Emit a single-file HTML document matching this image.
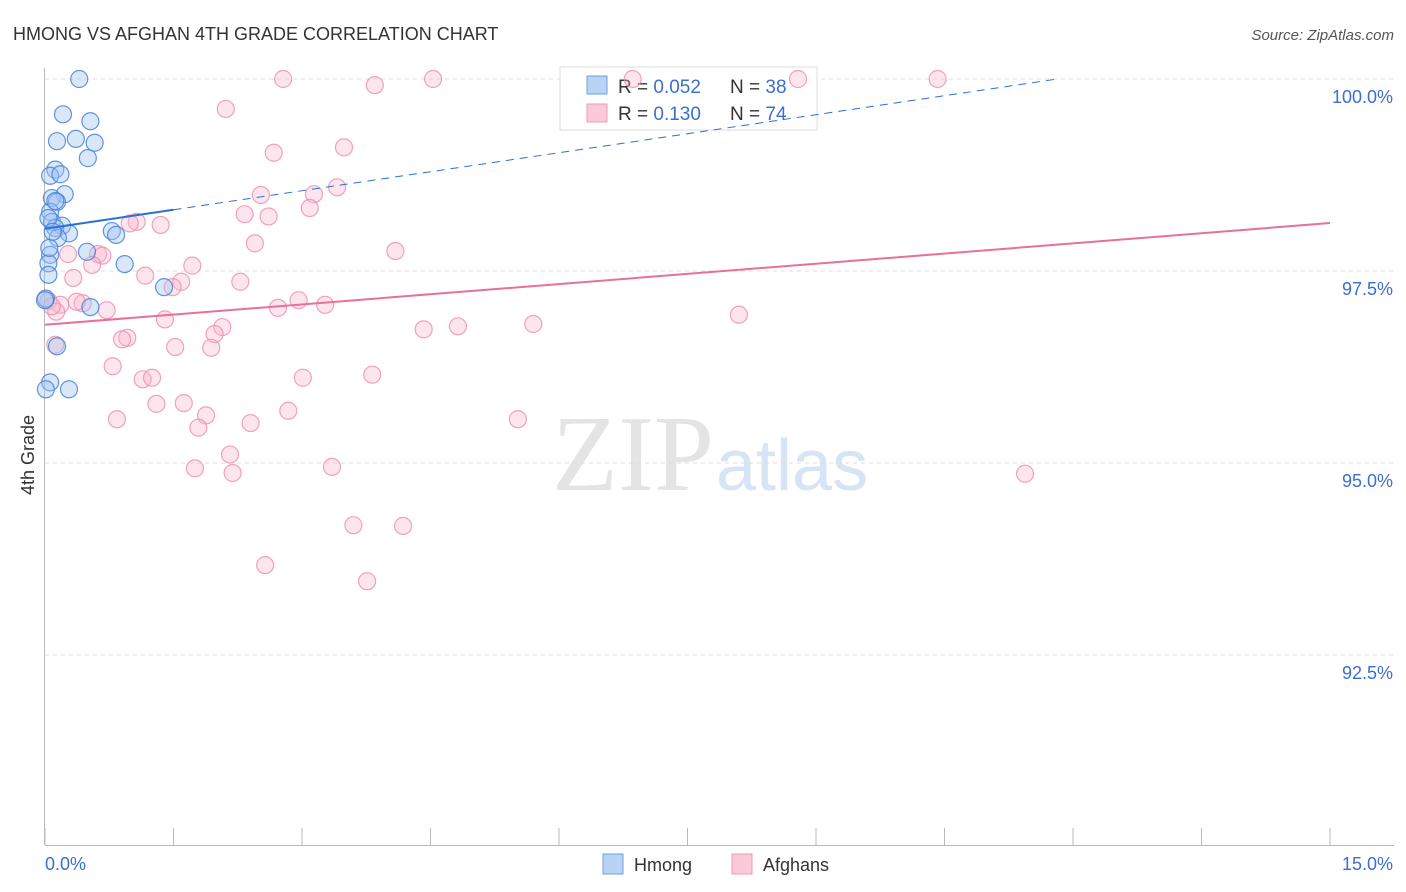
<!DOCTYPE html>
<html><head><meta charset="utf-8"><style>
body{margin:0;background:#fff;font-family:"Liberation Sans",sans-serif;}
svg{display:block}
</style></head><body>
<svg id="chart" width="1406" height="892">
<text x="13" y="40" font-size="18" fill="#333">HMONG VS AFGHAN 4TH GRADE CORRELATION CHART</text>
<text x="1394" y="40" font-size="15" fill="#555" font-style="italic" text-anchor="end">Source: ZipAtlas.com</text>
<text x="714" y="490" font-size="108" fill="#e4e4e4" text-anchor="end" font-family="Liberation Serif,serif">ZIP</text>
<text x="716" y="490" font-size="72" fill="#d6e4f5">atlas</text>
<text transform="translate(34,455) rotate(-90)" font-size="18" fill="#333" text-anchor="middle">4th Grade</text>
<g id="grid"></g><g id="axes"></g>
<g>
<rect x="560" y="67" width="257" height="63" fill="#fff" stroke="#ddd"/>
<rect x="587" y="76" width="20" height="18" fill="#b8d4f4" stroke="#6fa0e0"/>
<rect x="587" y="104" width="20" height="18" fill="#fbc9d8" stroke="#ee9ab5"/>
<text x="618" y="93" font-size="19" fill="#333">R = <tspan fill="#3a6fd0">0.052</tspan></text>
<text x="730" y="93" font-size="19" fill="#333">N = <tspan fill="#3a6fd0">38</tspan></text>
<text x="618" y="120" font-size="19" fill="#333">R =  <tspan fill="#3a6fd0">0.130</tspan></text>
<text x="730" y="120" font-size="19" fill="#333">N = <tspan fill="#3a6fd0">74</tspan></text>
</g>
<g id="pts"></g><g id="lines"></g>
<g>
<rect x="603" y="854" width="20" height="20" fill="#b8d4f4" stroke="#6fa0e0"/>
<text x="634" y="871" font-size="18" fill="#333">Hmong</text>
<rect x="732" y="854" width="20" height="20" fill="#fbc9d8" stroke="#ee9ab5"/>
<text x="763" y="871" font-size="18" fill="#333">Afghans</text>
</g>
</svg>
<script>
const hmongX=[0.40,0.21,0.53,0.14,0.36,0.58,0.50,0.12,0.06,0.18,0.23,0.08,0.14,0.06,0.08,0.20,0.12,0.28,0.15,0.78,0.83,0.49,0.06,0.04,0.93,0.04,1.39,0.01,0.53,0.14,0.06,0.01,0.28,0.12,0.04,0.05,0.09,0.00];
const hmongY=[100.0,99.54,99.45,99.19,99.22,99.17,98.97,98.82,98.74,98.76,98.50,98.45,98.40,98.27,98.14,98.09,98.06,97.99,97.93,98.02,97.97,97.75,97.71,97.60,97.59,97.45,97.29,97.14,97.03,96.52,96.05,95.96,95.96,98.41,98.19,97.80,98.01,97.12];
const afghX=[2.78,4.53,6.86,8.79,10.42,3.85,2.11,3.49,2.67,3.41,2.52,3.14,3.09,2.33,2.61,1.07,1.35,0.99,2.45,4.09,0.27,0.62,0.67,0.55,1.72,1.17,0.33,1.59,1.49,2.28,2.96,0.04,0.18,0.44,0.37,3.27,2.72,0.72,0.13,1.40,2.07,4.42,4.82,5.70,8.10,1.98,0.96,0.90,0.12,1.52,1.94,0.79,3.82,3.01,1.14,1.25,1.30,1.62,2.84,1.88,0.84,2.40,5.52,1.79,2.16,1.75,2.19,3.35,11.44,3.60,4.18,2.57,3.76,0.08];
const afghY=[100,100,100,100,100,99.92,99.61,99.11,99.04,98.59,98.49,98.50,98.32,98.24,98.21,98.14,98.10,98.12,97.86,97.76,97.72,97.72,97.70,97.58,97.57,97.44,97.41,97.36,97.29,97.36,97.12,97.11,97.06,97.08,97.10,97.06,97.02,96.99,96.97,96.87,96.77,96.74,96.78,96.81,96.93,96.68,96.63,96.61,96.54,96.51,96.50,96.26,96.15,96.11,96.09,96.11,95.77,95.78,95.68,95.62,95.57,95.52,95.57,95.46,95.11,94.93,94.87,94.95,94.86,94.19,94.18,93.67,93.46,97.04];
const yTicks=[100,97.5,95,92.5];
const yTickLabels=["100.0%","97.5%","95.0%","92.5%"];
const xTicks=[0,1.5,3,4.5,6,7.5,9,10.5,12,13.5,15];
const hmongTrend=[98.05,0.165];
const afghTrend=[96.80,0.0883];
const sx=v=>45+v/15*1285;
const sy=v=>79+(100-v)*76.8;
const NS="http://www.w3.org/2000/svg";
function mk(p,t,a){const e=document.createElementNS(NS,t);for(const k in a)e.setAttribute(k,a[k]);p.appendChild(e);return e;}
const grid=document.getElementById('grid'),axes=document.getElementById('axes'),pts=document.getElementById('pts'),lines=document.getElementById('lines');
yTicks.forEach((t,i)=>{
 const l=mk(grid,'line',{x1:45,x2:1394,y1:sy(t),y2:sy(t),stroke:'#ddd','stroke-dasharray':'4,4'});
 
 
 const tx=mk(grid,'text',{x:1393,y:sy(t)+24,'font-size':18,fill:'#3a6fd0','text-anchor':'end'});
 tx.textContent=yTickLabels[i];
 
 
});
const ya=mk(axes,'line',{x1:44.5,x2:44.5,y1:68,y2:845,stroke:'#bbb'});


const xa=mk(axes,'line',{x1:45,x2:1394,y1:845.5,y2:845.5,stroke:'#bbb'});


xTicks.forEach(t=>{
 const tk=mk(axes,'line',{x1:sx(t),x2:sx(t),y1:828,y2:845,stroke:'#bbb'});
 
 
});
const x0=mk(axes,'text',{x:45,y:870,'font-size':18,fill:'#3a6fd0'});x0.textContent='0.0%';


const x1=mk(axes,'text',{x:1393,y:870,'font-size':18,fill:'#3a6fd0','text-anchor':'end'});x1.textContent='15.0%';


afghX.forEach((x,i)=>{
 const c=mk(pts,'circle',{cx:sx(x),cy:sy(afghY[i]),r:8.5,fill:'rgba(248,180,202,0.35)',stroke:'rgba(236,140,172,0.8)','stroke-width':1.2});
 
 
});
hmongX.forEach((x,i)=>{
 const c=mk(pts,'circle',{cx:sx(x),cy:sy(hmongY[i]),r:8.5,fill:'rgba(160,196,240,0.4)',stroke:'rgba(70,130,220,0.85)','stroke-width':1.2});
 
 
});
const hEnd=(100-hmongTrend[0])/hmongTrend[1];
const hs=mk(lines,'line',{x1:sx(0),y1:sy(hmongTrend[0]),x2:sx(1.5),y2:sy(hmongTrend[0]+hmongTrend[1]*1.5),stroke:'#2a6fd6','stroke-width':2});


const hd=mk(lines,'line',{x1:sx(1.5),y1:sy(hmongTrend[0]+hmongTrend[1]*1.5),x2:sx(hEnd),y2:sy(100),stroke:'#2a6fd6','stroke-width':1,'stroke-dasharray':'8,6'});


const at=mk(lines,'line',{x1:sx(0),y1:sy(afghTrend[0]),x2:sx(15),y2:sy(afghTrend[0]+afghTrend[1]*15),stroke:'#e8709a','stroke-width':2});


</script>
</body></html>
